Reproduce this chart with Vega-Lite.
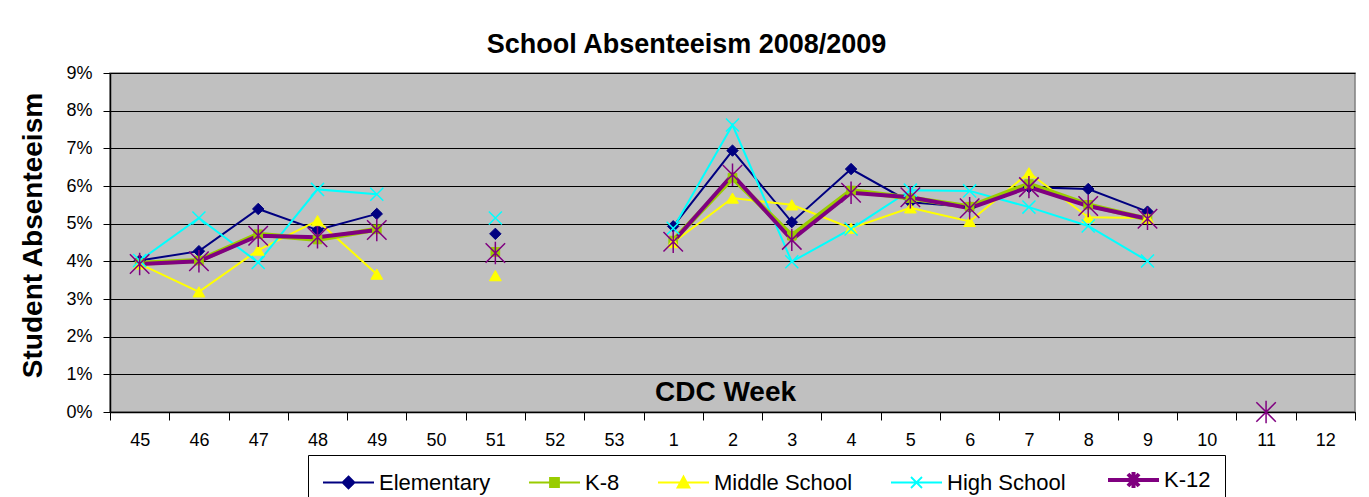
{
  "$schema": "https://vega.github.io/schema/vega-lite/v6.json",
  "autosize": "none",
  "width": 1245,
  "height": 339,
  "padding": {"left": 110, "top": 73, "right": 14, "bottom": 85},
  "background": "white",
  "config": {
    "font": "Liberation Sans",
    "view": {"fill": "#C0C0C0", "stroke": "#808080", "strokeWidth": 1.5}
  },
  "title": {
    "text": "School Absenteeism 2008/2009",
    "font": "Liberation Sans",
    "fontSize": 27,
    "fontWeight": "bold",
    "color": "black",
    "anchor": "middle",
    "dx": -46,
    "dy": 25,
    "baseline": "alphabetic",
    "offset": 9
  },
  "data": {
    "values": [
      {"week": "45", "series": "Elementary", "value": 4.02},
      {"week": "46", "series": "Elementary", "value": 4.27},
      {"week": "47", "series": "Elementary", "value": 5.39},
      {"week": "48", "series": "Elementary", "value": 4.83},
      {"week": "49", "series": "Elementary", "value": 5.26},
      {"week": "50", "series": "Elementary", "value": null},
      {"week": "51", "series": "Elementary", "value": 4.73},
      {"week": "52", "series": "Elementary", "value": null},
      {"week": "53", "series": "Elementary", "value": null},
      {"week": "1", "series": "Elementary", "value": 4.93},
      {"week": "2", "series": "Elementary", "value": 6.94},
      {"week": "3", "series": "Elementary", "value": 5.04},
      {"week": "4", "series": "Elementary", "value": 6.45},
      {"week": "5", "series": "Elementary", "value": 5.57},
      {"week": "6", "series": "Elementary", "value": 5.44},
      {"week": "7", "series": "Elementary", "value": 5.97},
      {"week": "8", "series": "Elementary", "value": 5.92},
      {"week": "9", "series": "Elementary", "value": 5.32},
      {"week": "10", "series": "Elementary", "value": null},

      {"week": "45", "series": "K-8", "value": 3.95},
      {"week": "46", "series": "K-8", "value": 4.02},
      {"week": "47", "series": "K-8", "value": 4.72},
      {"week": "48", "series": "K-8", "value": 4.58},
      {"week": "49", "series": "K-8", "value": 4.85},
      {"week": "50", "series": "K-8", "value": null},
      {"week": "51", "series": "K-8", "value": 4.25},
      {"week": "52", "series": "K-8", "value": null},
      {"week": "53", "series": "K-8", "value": null},
      {"week": "1", "series": "K-8", "value": 4.55},
      {"week": "2", "series": "K-8", "value": 6.22},
      {"week": "3", "series": "K-8", "value": 4.68},
      {"week": "4", "series": "K-8", "value": 5.88},
      {"week": "5", "series": "K-8", "value": 5.68},
      {"week": "6", "series": "K-8", "value": 5.45},
      {"week": "7", "series": "K-8", "value": 6.05},
      {"week": "8", "series": "K-8", "value": 5.5},
      {"week": "9", "series": "K-8", "value": 5.12},
      {"week": "10", "series": "K-8", "value": null},

      {"week": "45", "series": "Middle School", "value": 3.93},
      {"week": "46", "series": "Middle School", "value": 3.19},
      {"week": "47", "series": "Middle School", "value": 4.3},
      {"week": "48", "series": "Middle School", "value": 5.08},
      {"week": "49", "series": "Middle School", "value": 3.66},
      {"week": "50", "series": "Middle School", "value": null},
      {"week": "51", "series": "Middle School", "value": 3.62},
      {"week": "52", "series": "Middle School", "value": null},
      {"week": "53", "series": "Middle School", "value": null},
      {"week": "1", "series": "Middle School", "value": 4.5},
      {"week": "2", "series": "Middle School", "value": 5.68},
      {"week": "3", "series": "Middle School", "value": 5.5},
      {"week": "4", "series": "Middle School", "value": 4.88},
      {"week": "5", "series": "Middle School", "value": 5.42},
      {"week": "6", "series": "Middle School", "value": 5.06},
      {"week": "7", "series": "Middle School", "value": 6.35},
      {"week": "8", "series": "Middle School", "value": 5.17},
      {"week": "9", "series": "Middle School", "value": 5.15},
      {"week": "10", "series": "Middle School", "value": null},

      {"week": "45", "series": "High School", "value": 4.02},
      {"week": "46", "series": "High School", "value": 5.15},
      {"week": "47", "series": "High School", "value": 3.97},
      {"week": "48", "series": "High School", "value": 5.91},
      {"week": "49", "series": "High School", "value": 5.78},
      {"week": "50", "series": "High School", "value": null},
      {"week": "51", "series": "High School", "value": 5.15},
      {"week": "52", "series": "High School", "value": null},
      {"week": "53", "series": "High School", "value": null},
      {"week": "1", "series": "High School", "value": 4.88},
      {"week": "2", "series": "High School", "value": 7.62},
      {"week": "3", "series": "High School", "value": 3.99},
      {"week": "4", "series": "High School", "value": 4.86},
      {"week": "5", "series": "High School", "value": 5.89},
      {"week": "6", "series": "High School", "value": 5.87},
      {"week": "7", "series": "High School", "value": 5.44},
      {"week": "8", "series": "High School", "value": 4.94},
      {"week": "9", "series": "High School", "value": 4.01},
      {"week": "10", "series": "High School", "value": null},

      {"week": "45", "series": "K-12", "value": 3.93},
      {"week": "46", "series": "K-12", "value": 4.0},
      {"week": "47", "series": "K-12", "value": 4.68},
      {"week": "48", "series": "K-12", "value": 4.64},
      {"week": "49", "series": "K-12", "value": 4.83},
      {"week": "50", "series": "K-12", "value": null},
      {"week": "51", "series": "K-12", "value": 4.22},
      {"week": "52", "series": "K-12", "value": null},
      {"week": "53", "series": "K-12", "value": null},
      {"week": "1", "series": "K-12", "value": 4.52},
      {"week": "2", "series": "K-12", "value": 6.3},
      {"week": "3", "series": "K-12", "value": 4.57},
      {"week": "4", "series": "K-12", "value": 5.82},
      {"week": "5", "series": "K-12", "value": 5.7},
      {"week": "6", "series": "K-12", "value": 5.41},
      {"week": "7", "series": "K-12", "value": 5.97},
      {"week": "8", "series": "K-12", "value": 5.47},
      {"week": "9", "series": "K-12", "value": 5.13},
      {"week": "10", "series": "K-12", "value": null},
      {"week": "11", "series": "K-12", "value": 0}
    ]
  },
  "encoding": {
    "x": {
      "field": "week",
      "type": "ordinal",
      "bandPosition": 0.5,
      "scale": {
        "type": "band",
        "domain": ["45","46","47","48","49","50","51","52","53","1","2","3","4","5","6","7","8","9","10","11","12"],
        "paddingInner": 0,
        "paddingOuter": 0
      },
      "axis": {
        "title": "CDC Week",
        "titleFont": "Liberation Sans",
        "titleFontSize": 28,
        "titleFontWeight": "bold",
        "titleColor": "black",
        "titleY": -20,
        "titleX": 615,
        "titleBaseline": "middle",
        "titleAlign": "center",
        "labelAngle": 0,
        "labelFont": "Liberation Sans",
        "labelFontSize": 18,
        "labelColor": "black",
        "labelPadding": 11,
        "tickBand": "extent",
        "tickSize": 8,
        "tickColor": "black",
        "tickWidth": 1,
        "domainColor": "black",
        "domainWidth": 1.5,
        "grid": false
      }
    },
    "y": {
      "field": "value",
      "type": "quantitative",
      "scale": {"domain": [0, 9], "nice": false, "zero": true},
      "axis": {
        "title": "Student Absenteeism",
        "titleFont": "Liberation Sans",
        "titleFontSize": 28,
        "titleFontWeight": "bold",
        "titleColor": "black",
        "titleAngle": 270,
        "titleX": -77,
        "titleY": 162,
        "titleAlign": "center",
        "titleBaseline": "middle",
        "values": [0,1,2,3,4,5,6,7,8,9],
        "labelExpr": "datum.value + '%'",
        "labelFont": "Liberation Sans",
        "labelFontSize": 18,
        "labelColor": "black",
        "labelPadding": 11,
        "tickSize": 7,
        "tickColor": "black",
        "domainColor": "black",
        "domainWidth": 1.5,
        "grid": true,
        "gridColor": "black",
        "gridWidth": 1,
        "gridOpacity": 1
      }
    }
  },
  "layer": [
    {
      "mark": {"type": "line", "invalid": "break-paths-filter-domains", "strokeWidth": 2},
      "encoding": {
        "order": {"value": null},
        "stroke": {
          "field": "series",
          "type": "nominal",
          "scale": {
            "domain": ["Elementary", "K-8", "Middle School", "High School", "K-12"],
            "range": ["#000080", "#99CC00", "#FFFF00", "#00FFFF", "#800080"]
          },
          "legend": {
            "title": null,
            "orient": "none",
            "legendX": 198,
            "legendY": 382,
            "direction": "horizontal",
            "columns": 5,
            "fillColor": "white",
            "strokeColor": "black",
            "padding": 14,
            "labelFont": "Liberation Sans",
            "labelFontSize": 22,
            "labelColor": "black",
            "labelOffset": 35,
            "columnPadding": 34,
            "symbolSize": 400,
            "symbolStrokeWidth": 1.5,
            "labelLimit": 300,
            "encode": {
              "symbols": {
                "update": {
                  "shape": {"signal": "datum.value === 'Elementary' ? 'M-1,0H4.1M1.55,-0.6L2.15,0L1.55,0.6L0.95,0Z' : datum.value === 'K-8' ? 'M-1,0H4.1M1.1,-0.45H2V0.45H1.1Z' : datum.value === 'Middle School' ? 'M-1,0H4.1M1.55,-0.6L2.15,0.5H0.95Z' : datum.value === 'High School' ? 'M-1,0H4.1M1,-0.55L2.1,0.55M1,0.55L2.1,-0.55' : 'M-1,0H4.1M1,-0.6L2.1,0.6M1,0.6L2.1,-0.6M1.55,-0.8V0.8'"},
                  "fill": {"signal": "scale('stroke', datum.value)"},
                  "stroke": {"signal": "scale('stroke', datum.value)"},
                  "strokeWidth": {"signal": "datum.value === 'K-12' ? 4 : 1.8"},
                  "opacity": {"value": 1}
                }
              }
            }
          }
        }
      }
    },
    {
      "transform": [{"filter": "datum.series === 'K-8'"}],
      "mark": {"type": "line", "invalid": "break-paths-filter-domains", "strokeWidth": 5, "stroke": "#99CC00"},
      "encoding": {"order": {"value": null}}
    },
    {
      "transform": [{"filter": "datum.series === 'K-12'"}],
      "mark": {"type": "line", "invalid": "break-paths-filter-domains", "strokeWidth": 4, "stroke": "#800080"},
      "encoding": {"order": {"value": null}}
    },
    {
      "transform": [{"filter": "datum.series === 'Elementary' && datum.value != null"}],
      "mark": {"type": "point", "shape": "diamond", "size": 130, "filled": true, "fill": "#000080", "stroke": "#000080", "strokeWidth": 1, "opacity": 1}
    },
    {
      "transform": [{"filter": "datum.series === 'K-8' && datum.value != null"}],
      "mark": {"type": "point", "shape": "square", "size": 75, "filled": true, "fill": "#99CC00", "stroke": "#99CC00", "strokeWidth": 1, "opacity": 1}
    },
    {
      "transform": [{"filter": "datum.series === 'Middle School' && datum.value != null"}],
      "mark": {"type": "point", "shape": "triangle-up", "size": 140, "filled": true, "fill": "#FFFF00", "stroke": "#FFFF00", "strokeWidth": 1, "opacity": 1}
    },
    {
      "transform": [{"filter": "datum.series === 'High School' && datum.value != null"}],
      "mark": {"type": "point", "shape": "M-1,-1L1,1M-1,1L1,-1", "size": 170, "filled": false, "stroke": "#00FFFF", "strokeWidth": 1.5, "opacity": 1}
    },
    {
      "transform": [{"filter": "datum.series === 'K-12' && datum.value != null"}],
      "mark": {"type": "point", "shape": "M-1,-1L1,1M-1,1L1,-1M0,-1.15V1.15", "size": 380, "filled": false, "stroke": "#800080", "strokeWidth": 1.5, "opacity": 1}
    }
  ]
}
